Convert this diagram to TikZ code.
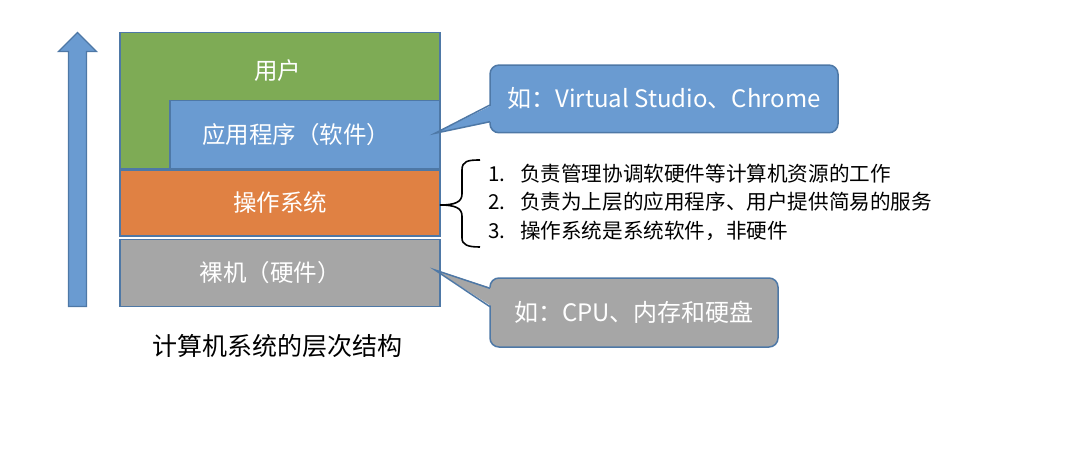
\documentclass[tikz,border=0pt]{standalone}
\usepackage{fontspec}
\usetikzlibrary{calc}
\setmainfont{Noto Sans CJK SC}
\definecolor{ugreen}{HTML}{7EAB55}
\definecolor{ublue}{HTML}{6A9BD1}
\definecolor{uorange}{HTML}{E08143}
\definecolor{ugray}{HTML}{A6A6A6}
\definecolor{bordc}{HTML}{4E78A6}
\begin{document}
\begin{tikzpicture}[x=1pt,y=-1pt,
  layer/.style={draw=bordc, line width=1.5pt, inner sep=0pt, outer sep=0pt},
  boxtext/.style={text=white, font=\fontsize{23.5pt}{27pt}\selectfont, inner sep=0pt},
  callbox/.style={draw=bordc, line width=1.5pt, rounded corners=9pt, inner sep=0pt, text=white, font=\fontsize{24pt}{28pt}\selectfont},
  listtext/.style={anchor=base west, inner sep=0pt, font=\fontsize{20.6pt}{24pt}\selectfont},
  ptr/.style={draw=bordc, line width=1.5pt, line join=miter}
]
\useasboundingbox (0,0) rectangle (1072,476);

% upward arrow
\draw[fill=ublue, draw=bordc, line width=1.3pt]
  (68.5,306.5) -- (68.5,51.5) -- (58.5,51.5) -- (77.5,32.5) -- (96.5,51.5) -- (86.5,51.5) -- (86.5,306.5) -- cycle;

% layers
\node[layer, fill=ugreen, minimum width=320pt, minimum height=135.6pt] (user) at (280,100.5) {};
\node[layer, fill=ublue, minimum width=270pt, minimum height=67.6pt] (app) at (305,134.5) {};
\node[layer, fill=uorange, minimum width=320pt, minimum height=66pt] (os) at (280,203) {};
\node[layer, fill=ugray, minimum width=320pt, minimum height=67.4pt] (hw) at (280,273) {};

\node[boxtext] (usert) at (277.5,71) {用户};
\node[boxtext] (appt) at (296,135) {应用程序（软件）};
\node[boxtext] (ost) at (280,203) {操作系统};
\node[boxtext] (hwt) at (270,273) {裸机（硬件）};

% callout 1
\node[callbox, fill=ublue, minimum width=348pt, minimum height=67.7pt] (c1) at (664,98.9) {如：Virtual Studio、Chrome};
\coordinate (t1) at (435,133.3);
\coordinate (a1) at (490,105);
\coordinate (b1) at (490,121.7);
\fill[ublue] (t1) -- ($(a1)+(2.5,0)$) -- ($(b1)+(2.5,0)$) -- cycle;
\draw[ptr] (a1) -- (t1) -- (b1);

% callout 2
\node[callbox, fill=ugray, minimum width=288pt, minimum height=69pt] (c2) at (634,312.5) {如：CPU、内存和硬盘};
\coordinate (t2) at (435,270);
\coordinate (a2) at (490,288.3);
\coordinate (b2) at (490,306.7);
\fill[ugray] (t2) -- ($(a2)+(2.5,0)$) -- ($(b2)+(2.5,0)$) -- cycle;
\draw[ptr] (a2) -- (t2) -- (b2);

% brace
\draw[line width=1.6pt]
  (480,160) .. controls (468,160) and (462,161) .. (462,170) -- (462,194)
  .. controls (462,202) and (455,205) .. (440,205)
  .. controls (455,205) and (462,208) .. (462,216) -- (462,238)
  .. controls (462,245) and (468,247) .. (480,247);

% list
\node[listtext] (l1) at (488,181.5) {\makebox[32pt][l]{1.}负责管理协调软硬件等计算机资源的工作};
\node[listtext] (l2) at (488,209.5) {\makebox[32pt][l]{2.}负责为上层的应用程序、用户提供简易的服务};
\node[listtext] (l3) at (488,238) {\makebox[32pt][l]{3.}操作系统是系统软件，非硬件};

% caption
\node[inner sep=0pt, font=\fontsize{25pt}{29pt}\selectfont] (cap) at (277.5,346.5) {计算机系统的层次结构};
\end{tikzpicture}
\end{document}
